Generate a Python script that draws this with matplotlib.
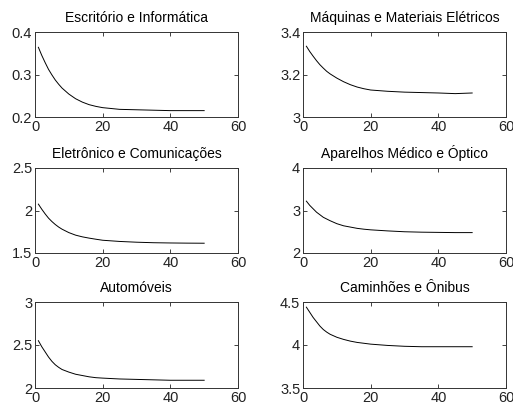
import matplotlib
matplotlib.use('Agg')
import matplotlib.pyplot as plt

plt.rcParams['font.family'] = ['Liberation Sans', 'DejaVu Sans']

x = [1, 2, 3, 4, 5, 6, 7, 8, 10, 12, 14, 16, 18, 20, 25, 30, 35, 40, 45, 50]

escritorio = [0.364, 0.345, 0.328, 0.312, 0.299, 0.287, 0.277, 0.268, 0.254, 0.243,
              0.235, 0.229, 0.225, 0.222, 0.218, 0.217, 0.216, 0.215, 0.215, 0.215]
maquinas = [3.333, 3.308, 3.286, 3.265, 3.246, 3.230, 3.215, 3.203, 3.183, 3.166,
            3.152, 3.141, 3.133, 3.127, 3.121, 3.117, 3.115, 3.113, 3.110, 3.113]
eletronico = [2.075, 2.015, 1.96, 1.91, 1.87, 1.835, 1.805, 1.78, 1.74, 1.71,
              1.69, 1.675, 1.662, 1.65, 1.636, 1.627, 1.621, 1.618, 1.616, 1.615]
aparelhos = [3.22, 3.12, 3.04, 2.96, 2.90, 2.84, 2.80, 2.76, 2.69, 2.64,
             2.61, 2.58, 2.56, 2.545, 2.52, 2.50, 2.49, 2.485, 2.48, 2.48]
automoveis = [2.55, 2.48, 2.42, 2.36, 2.31, 2.27, 2.24, 2.215, 2.185, 2.16,
              2.145, 2.13, 2.12, 2.115, 2.105, 2.10, 2.095, 2.09, 2.09, 2.09]
caminhoes = [4.44, 4.38, 4.32, 4.27, 4.22, 4.18, 4.15, 4.125, 4.09, 4.065,
             4.045, 4.03, 4.02, 4.01, 3.995, 3.985, 3.98, 3.98, 3.98, 3.98]

titles = ['Escritório e Informática', 'Máquinas e Materiais Elétricos',
          'Eletrônico e Comunicações', 'Aparelhos Médico e Óptico',
          'Automóveis', 'Caminhões e Ônibus']
series = [escritorio, maquinas, eletronico, aparelhos, automoveis, caminhoes]
yticks = [[0.2, 0.3, 0.4], [3, 3.2, 3.4], [1.5, 2, 2.5],
          [2, 3, 4], [2, 2.5, 3], [3.5, 4, 4.5]]
xticks = [0, 20, 40, 60]

W, H = 513, 413
fig = plt.figure(figsize=(W / 100, H / 100), dpi=100)

# axes boxes in pixels (left, top, right, bottom)
cols = [(35, 238), (303, 506)]
rows = [(32, 117), (168, 253), (302, 388)]

for i, (title, y) in enumerate(zip(titles, series)):
    c0, c1 = cols[i % 2]
    r0, r1 = rows[i // 2]
    ax = fig.add_axes([c0 / W, 1 - r1 / H, (c1 - c0) / W, (r1 - r0) / H])
    ax.plot(x, y, color='black', lw=0.7)
    ax.set_xlim(0, 60)
    ax.set_ylim(yticks[i][0], yticks[i][-1])
    ax.set_xticks(xticks)
    ax.set_yticks(yticks[i])
    ax.set_yticklabels([f'{v:g}' for v in yticks[i]])
    ax.tick_params(direction='in', length=3, width=0.6, top=True, right=True,
                   labelsize=10.5, pad=2, colors='#222222')
    for s in ax.spines.values():
        s.set_linewidth(0.7)
        s.set_color('#333333')
    ax.set_title(title, fontsize=10, pad=7)

fig.savefig('out.png', dpi=100)
